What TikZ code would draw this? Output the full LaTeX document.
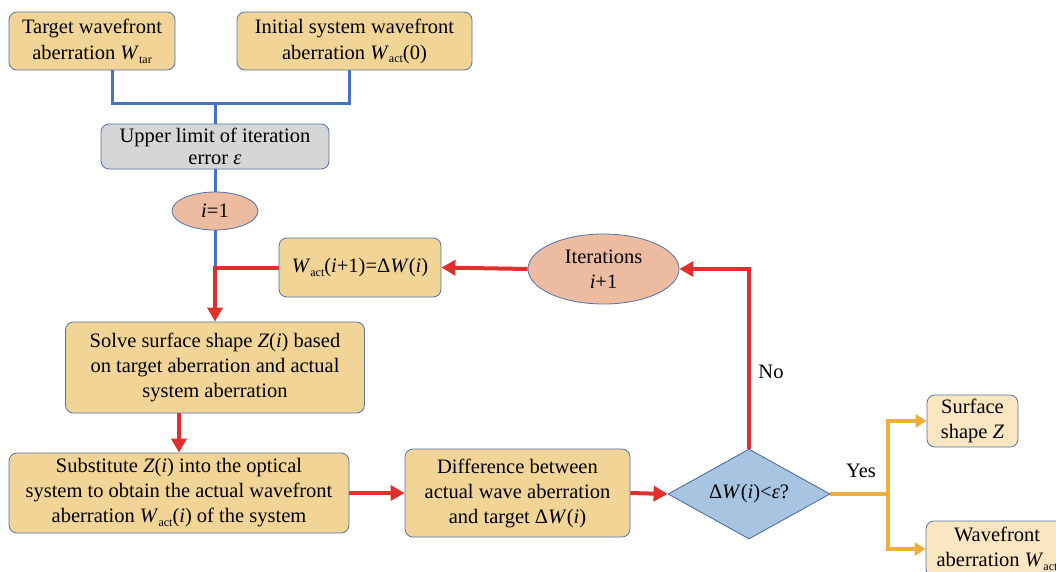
\documentclass[tikz,border=0pt]{standalone}
\usepackage{fontspec}
\setmainfont{Liberation Serif}
\usetikzlibrary{arrows.meta,shapes.geometric}
\definecolor{tanfill}{HTML}{F2D596}
\definecolor{lighttan}{HTML}{FBE6C2}
\definecolor{bord}{HTML}{5272AA}
\definecolor{grayfill}{HTML}{D6D6D6}
\definecolor{salmon}{HTML}{EDBBA0}
\definecolor{diafill}{HTML}{A7C4E0}
\definecolor{diabord}{HTML}{46649E}
\definecolor{blueline}{HTML}{4472C4}
\definecolor{redline}{HTML}{E0302E}
\definecolor{yelline}{HTML}{EDB040}
\newcommand{\sbs}[1]{\raisebox{-0.4ex}{\fontsize{12}{12}\selectfont #1}}
\tikzset{
  box/.style={draw=bord, line width=0.8pt, fill=tanfill, rounded corners=8pt,
    align=center, inner sep=2pt, font=\fontsize{20.5}{25}\selectfont},
  ell/.style={ellipse, draw=bord, line width=0.8pt, fill=salmon, align=center,
    inner sep=0pt, font=\fontsize{20.5}{25}\selectfont},
  bl/.style={draw=blueline, line width=3pt},
  rd/.style={draw=redline, line width=4pt, -{Triangle[length=14pt,width=15pt]}},
  yl/.style={draw=yelline, line width=4pt},
  ylarr/.style={draw=yelline, line width=4pt, -{Triangle[length=11pt,width=13pt]}},
  lbl/.style={font=\fontsize{20.5}{25}\selectfont}
}
\begin{document}
\begin{tikzpicture}[x=1pt,y=-1pt]
\useasboundingbox (0,0) rectangle (1056,571);

\node[box, minimum width=166, minimum height=58, font=\fontsize{20.5}{26}\selectfont] (tgt) at (92,41)
  {Target wavefront\\aberration \textit{W}\sbs{tar}};
\node[box, minimum width=235, minimum height=58, font=\fontsize{20.5}{26}\selectfont] (init) at (354.5,41)
  {Initial system wavefront\\aberration \textit{W}\sbs{act}(0)};
\node[box, fill=grayfill, minimum width=228, minimum height=45, font=\fontsize{20.5}{22}\selectfont] (upper) at (215,146.5)
  {Upper limit of iteration\\error \textit{ε}};
\node[ell, minimum width=86, minimum height=38] (ione) at (215,211) {\textit{i}=1};
\node[box, minimum width=162, minimum height=59] (wact) at (360,267.5)
  {\textit{W}\sbs{act}(\textit{i}+1)=Δ\textit{W}(\textit{i})};
\node[ell, minimum width=151, minimum height=70] (iter) at (603.5,269)
  {Iterations\\\textit{i}+1};
\node[box, minimum width=299, minimum height=91] (solve) at (215,367.5)
  {Solve surface shape \textit{Z}(\textit{i}) based\\on target aberration and actual\\system aberration};
\node[box, minimum width=340, minimum height=80] (subst) at (179,493)
  {Substitute \textit{Z}(\textit{i}) into the optical\\system to obtain the actual wavefront\\aberration \textit{W}\sbs{act}(\textit{i}) of the system};
\node[box, minimum width=225, minimum height=88] (diff) at (517.5,493)
  {Difference between\\actual wave aberration\\and target Δ\textit{W}(\textit{i})};
\node[diamond, draw=diabord, line width=0.8pt, fill=diafill, aspect=1.8, inner sep=0pt,
  minimum width=162, minimum height=90, font=\fontsize{20.5}{25}\selectfont] (dia) at (749,494)
  {Δ\textit{W}(\textit{i})<\textit{ε}?};
\node[box, fill=lighttan, minimum width=91, minimum height=52] (surf) at (972.5,421)
  {Surface\\shape \textit{Z}};

\coordinate (j1) at (112,103);
\coordinate (j2) at (349,103);
\coordinate (j5) at (888,494);

% blue connectors
\draw[bl] (tgt.south -| j1) -- (j1) -- (j2) -- (init.south -| j2);
\draw[bl] (upper.north |- j1) -- (upper.north);
\draw[bl] (upper.south) -- (ione.north);
\draw[bl] (ione.south) -- (ione.south |- wact.west);

% red connectors
\draw[rd] (wact.west) -| (solve.north);
\draw[rd] (iter.west) -- (wact.east);
\draw[rd] (solve.south -| subst.north) -- (subst.north);
\draw[rd] (subst.east) -- (diff.west);
\draw[rd] (diff.east) -- (dia.west);
\draw[rd] (dia.north) |- (iter.east);
\node[lbl] (no) at (771,372) {No};

% yellow connectors
\draw[yl] (dia.east) -- (j5);
\draw[ylarr] (j5) |- (surf.west);
\node[lbl] (yes) at (861,471) {Yes};

\begin{scope}
\clip (0,0) rectangle (1056,571);
\node[box, fill=lighttan, minimum width=142, minimum height=56, font=\fontsize{20.5}{25}\selectfont] (wave) at (997,549)
  {Wavefront\\aberration \textit{W}\sbs{act}};
\draw[ylarr] (j5) |- (wave.west);
\end{scope}
\end{tikzpicture}
\end{document}
